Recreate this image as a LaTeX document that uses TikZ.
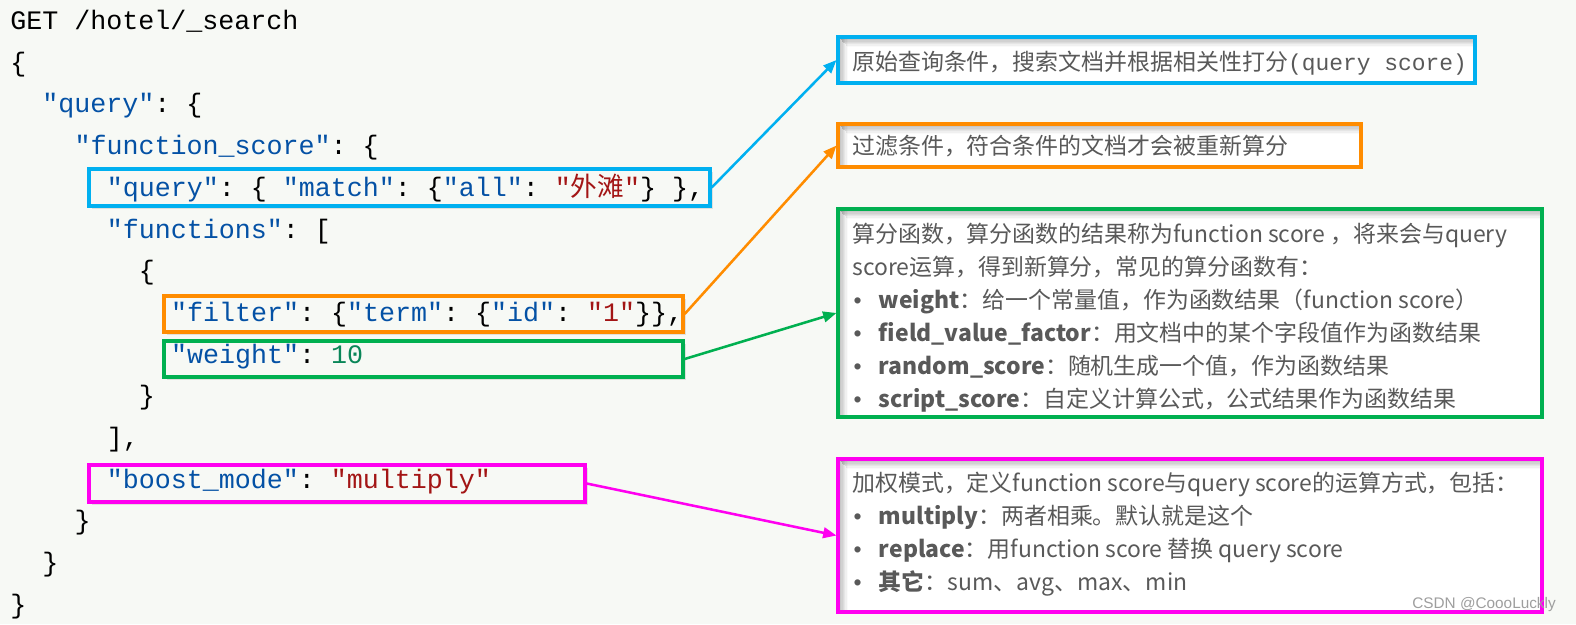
\documentclass[tikz,border=0pt]{standalone}
\usepackage{fontspec}
\setmonofont{Liberation Mono}
\newfontfamily\cjk{Noto Sans CJK SC}
\newfontfamily\wmfont{Liberation Sans}
\usetikzlibrary{fit,shadows,arrows.meta}

\definecolor{bgcol}{RGB}{247,249,245}
\definecolor{cblue}{RGB}{0,176,240}
\definecolor{corange}{RGB}{255,140,0}
\definecolor{cgreen}{RGB}{0,176,80}
\definecolor{cmagenta}{RGB}{255,0,240}
\definecolor{keycol}{RGB}{4,81,165}
\definecolor{strcol}{RGB}{163,21,21}
\definecolor{numcol}{RGB}{9,134,88}
\definecolor{notecol}{RGB}{89,89,89}

\newcommand{\jkey}[1]{\textcolor{keycol}{"#1"}}
\newcommand{\jstr}[1]{\textcolor{strcol}{"#1"}}
\newcommand{\bul}{\makebox[20pt][l]{\hspace{1pt}{\wmfont •}}}

\begin{document}
\begin{tikzpicture}[x=0.75pt,y=0.75pt,yscale=-1,xscale=1,
  code/.style={anchor=base west,inner sep=0pt,font=\fontsize{20}{24}\ttfamily},
  note/.style={anchor=base west,inner sep=0pt,text=notecol,font=\fontsize{17.2}{20}\cjk},
  codebox/.style={draw=#1,line width=2.5pt,fill=bgcol,inner sep=0pt,
    drop shadow={shadow xshift=2pt,shadow yshift=-2.5pt,opacity=0.2}},
  notebox/.style={draw=#1,line width=2.3pt,fill=white,inner sep=0pt,
    path picture={
      \foreach \k in {1,...,7}{
        \draw[black,line width=1pt,opacity=0.3-0.04*\k] ([xshift=\k pt]path picture bounding box.north west) -- ([xshift=\k pt]path picture bounding box.south west);
        \draw[black,line width=1pt,opacity=0.3-0.04*\k] ([xshift=\k pt,yshift=-\k pt]path picture bounding box.north west) -- ([yshift=-\k pt]path picture bounding box.north east);
      }
    }},
  link/.style={draw=#1,line width=1.9pt,-{Triangle[length=10pt,width=8pt]}}
]
%set diagram size 1576 x 624
\fill[bgcol] (0,0) rectangle (1576,624);
\useasboundingbox (0,0) rectangle (1576,624);

%Shape: Rectangle (code boxes)
\node[codebox=cblue, fit={(89,169) (710,206)}] (qbox) {};
\node[codebox=corange, fit={(164,296) (683,332)}] (fbox) {};
\node[codebox=cgreen, fit={(164,341) (683,377)}] (wbox) {};
\node[codebox=cmagenta, fit={(89,465) (585,502)}] (mbox) {};

%Shape: Rectangle (note boxes)
\node[notebox=cblue, fit={(838,37) (1475,83)}] (qnote) {};
\node[notebox=corange, fit={(838,124) (1361,167)}] (fnote) {};
\node[notebox=cgreen, fit={(838,209) (1542,417)}] (wnote) {};
\node[notebox=cmagenta, fit={(838,459) (1542,612)}] (mnote) {};

% Text Node (request)
\node[code] (l1) at (10,29.5) {GET /hotel/\_search};
\node[code] (l2) at (10,71.2) {\{};
\node[code] (l3) at (42.2,112.9) {\jkey{query}: \{};
\node[code] (l4) at (74.3,154.6) {\jkey{function\_score}: \{};
\node[code] (l5) at (106.5,196.3) {\jkey{query}: \{ \jkey{match}: \{\jkey{all}: \textcolor{strcol}{"{\cjk 外滩}"}\} \},};
\node[code] (l6) at (106.5,238.0) {\jkey{functions}: [};
\node[code] (l7) at (138.6,279.7) {\{};
\node[code] (l8) at (170.8,321.4) {\jkey{filter}: \{\jkey{term}: \{\jkey{id}: \jstr{1}\}\},};
\node[code] (l9) at (170.8,363.1) {\jkey{weight}: \textcolor{numcol}{10}};
\node[code] (l10) at (138.6,404.8) {\}};
\node[code] (l11) at (106.5,446.5) {],};
\node[code] (l12) at (106.5,488.2) {\jkey{boost\_mode}: \jstr{multiply}};
\node[code] (l13) at (74.3,529.9) {\}};
\node[code] (l14) at (42.2,571.6) {\}};
\node[code] (l15) at (10,613.3) {\}};

% Text Node (notes)
\node[note] (q1) at (852,71) {原始查询条件，搜索文档并根据相关性打分{\ttfamily (query score)}};
\node[note] (f1) at (852,155) {过滤条件，符合条件的文档才会被重新算分};

\node[note] (w1) at (852,242.5) {算分函数，算分函数的结果称为function score ，将来会与query};
\node[note] (w2) at (852,275.4) {score运算，得到新算分，常见的算分函数有：};
\node[note] (w3) at (852,308.3) {\bul\textbf{weight}：给一个常量值，作为函数结果（function score）};
\node[note] (w4) at (852,341.2) {\bul\textbf{field\_value\_factor}：用文档中的某个字段值作为函数结果};
\node[note] (w5) at (852,374.1) {\bul\textbf{random\_score}：随机生成一个值，作为函数结果};
\node[note] (w6) at (852,407.0) {\bul\textbf{script\_score}：自定义计算公式，公式结果作为函数结果};

\node[note] (m1) at (852,491) {加权模式，定义function score与query score的运算方式，包括：};
\node[note] (m2) at (852,524) {\bul\textbf{multiply}：两者相乘。默认就是这个};
\node[note] (m3) at (852,557) {\bul\textbf{replace}：用function score 替换 query score};
\node[note] (m4) at (852,590) {\bul\textbf{其它}：sum、avg、max、min};

% Text Node (watermark)
\node[anchor=east,inner sep=0pt,text=black!38,font=\fontsize{11.5}{12}\wmfont] (wm) at (1556,605) {CSDN @CoooLuckly};

%Straight Lines (links)
\draw[link=cblue] (qbox.east) -- (qnote.west);
\draw[link=corange] (fbox.east) -- (fnote.west);
\draw[link=cgreen] (wbox.east) -- (wnote.west);
\draw[link=cmagenta] (mbox.east) -- (mnote.west);
\end{tikzpicture}
\end{document}
